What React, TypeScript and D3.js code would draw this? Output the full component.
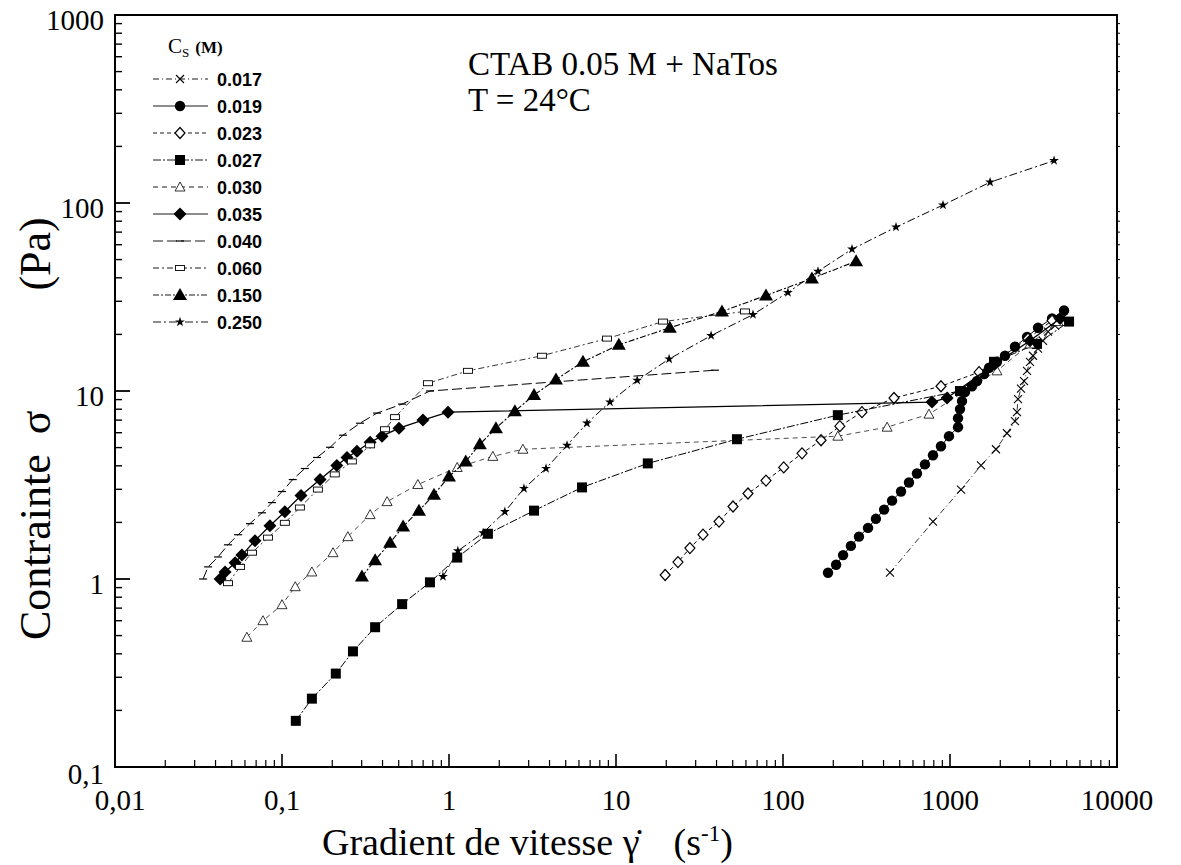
import React from 'react';
import * as d3 from 'd3';

// --- DATA (shear rate s-1, stress Pa) ---
const concentrations = ['0.017', '0.019', '0.023', '0.027', '0.030', '0.035', '0.040', '0.060', '0.150', '0.250'];

const s017: [number, number][] = [[437, 1.08], [791, 2.02], [1164, 2.99], [1534, 4.02], [1885, 4.9], [2194, 5.96], [2449, 6.91], [2518, 7.72], [2554, 9.06], [2661, 10.3], [2775, 11.3], [2893, 12.8], [3013, 14.3], [3141, 15.4], [3366, 16.8], [3606, 18.5], [3864, 20.7], [4255, 22.3], [4688, 24.3]];
const s019: [number, number][] = [[186, 1.08], [208, 1.19], [229, 1.34], [255, 1.5], [285, 1.68], [323, 1.87], [360, 2.09], [403, 2.34], [450, 2.61], [509, 2.92], [568, 3.26], [634, 3.64], [708, 4.07], [791, 4.55], [883, 5.08], [986, 5.75], [1117, 6.42], [1117, 7.17], [1148, 8.01], [1180, 8.84], [1230, 9.88], [1355, 10.6], [1452, 11.3], [1600, 12.3], [1714, 13.3], [1911, 14.3], [2134, 15.4], [2449, 17.2], [2893, 19.4], [3366, 21.7], [4083, 24.3], [4819, 26.8]];
const s023: [number, number][] = [[19.7, 1.05], [23.5, 1.23], [27.7, 1.46], [33.2, 1.72], [41.4, 2.02], [50.2, 2.43], [61.7, 2.85], [79.1, 3.34], [101, 3.92], [130, 4.66], [169, 5.47], [219, 6.5], [297, 7.72], [462, 9.18], [883, 10.6], [1493, 12.6], [2931, 19.0], [4083, 23.7]];
const s027: [number, number][] = [[0.121, 0.176], [0.151, 0.231], [0.21, 0.314], [0.266, 0.412], [0.361, 0.554], [0.524, 0.735], [0.769, 0.96], [1.12, 1.3], [1.71, 1.74], [3.23, 2.31], [6.26, 3.07], [15.5, 4.12], [53.0, 5.54], [213, 7.44], [1148, 10.0], [1834, 14.3], [3319, 17.8], [5164, 23.4]];
const s030: [number, number][] = [[0.0616, 0.49], [0.0769, 0.6], [0.1, 0.73], [0.12, 0.91], [0.151, 1.09], [0.202, 1.38], [0.248, 1.68], [0.337, 2.2], [0.426, 2.58], [0.651, 3.18], [1.12, 3.92], [1.83, 4.49], [2.77, 4.9], [213, 5.75], [420, 6.42], [748, 7.53], [1911, 12.8], [3013, 17.8], [4436, 23.4]];
const s035: [number, number][] = [[0.0426, 1.0], [0.0456, 1.09], [0.0524, 1.22], [0.0575, 1.34], [0.0689, 1.6], [0.0847, 1.92], [0.104, 2.28], [0.13, 2.78], [0.169, 3.38], [0.213, 4.02], [0.245, 4.43], [0.281, 4.78], [0.337, 5.34], [0.397, 5.75], [0.502, 6.34], [0.698, 7.0], [0.986, 7.72], [780, 8.73], [960, 9.18], [1858, 13.9], [3013, 18.5], [4560, 24.3]];
const s040: [number, number][] = [[0.0337, 1.0], [0.0361, 1.16], [0.0414, 1.31], [0.0475, 1.52], [0.0546, 1.72], [0.0643, 1.97], [0.0759, 2.25], [0.0871, 2.55], [0.1, 2.92], [0.116, 3.38], [0.137, 3.87], [0.162, 4.43], [0.194, 5.02], [0.232, 5.82], [0.293, 6.74], [0.371, 7.63], [0.524, 8.52], [0.769, 10.0], [39.1, 12.9]];
const s060: [number, number][] = [[0.0475, 0.95], [0.0561, 1.16], [0.0661, 1.38], [0.0824, 1.66], [0.104, 1.99], [0.128, 2.4], [0.164, 2.99], [0.207, 3.6], [0.262, 4.22], [0.337, 5.14], [0.414, 6.26], [0.475, 7.26], [0.748, 11.0], [1.3, 12.8], [3.6, 15.4], [8.83, 19.0], [19.1, 23.4], [59.2, 26.5]];
const s150: [number, number][] = [[0.301, 1.03], [0.361, 1.26], [0.444, 1.56], [0.531, 1.9], [0.661, 2.31], [0.813, 2.81], [1.0, 3.51], [1.26, 4.22], [1.53, 5.21], [1.91, 6.34], [2.48, 7.81], [3.23, 9.52], [4.37, 11.5], [6.34, 14.3], [10.4, 17.6], [21.0, 21.7], [43.1, 26.5], [79.1, 32.2], [149, 39.7], [274, 49.0]];
const s250: [number, number][] = [[0.92, 1.03], [1.13, 1.41], [1.6, 1.76], [2.16, 2.28], [2.81, 3.03], [3.81, 3.87], [5.09, 5.14], [6.7, 6.74], [9.2, 8.73], [13.4, 11.4], [20.8, 14.8], [37.1, 19.7], [66.1, 25.5], [107, 33.4], [162, 43.3], [259, 56.8], [475, 74.4], [908, 97.5], [1738, 129], [4198, 168]];

const xTickValues = [0.01, 0.1, 1, 10, 100, 1000, 10000];
const xTickLabels = ['0,01', '0,1', '1', '10', '100', '1000', '10000'];
const yTickValues = [0.1, 1, 10, 100, 1000];
const yTickLabels = ['0,1', '1', '10', '100', '1000'];

type Marker = 'x' | 'dot' | 'odiamond' | 'square' | 'otri' | 'diamond' | 'dash' | 'rect' | 'tri' | 'star';

// styling per series (same order as concentrations)
const seriesData = [s017, s019, s023, s027, s030, s035, s040, s060, s150, s250];
const markers: Marker[] = ['x', 'dot', 'odiamond', 'square', 'otri', 'diamond', 'dash', 'rect', 'tri', 'star'];
const dashes = ['6 3 1 3', '', '4 3', '8 2 2 2', '5 4', '', '10 4', '6 3 2 3', '6 2 2 2', '8 3 2 3'];
const widths = [0.8, 1, 1, 1, 0.7, 1.3, 1, 0.8, 1.1, 1];

const SERIF = "'Liberation Serif', 'Times New Roman', serif";
const SANS = "'Liberation Sans', Arial, sans-serif";

const x = d3.scaleLog().domain([0.01, 10000]).range([115, 1117]);
const y = d3.scaleLog().domain([0.1, 1000]).range([767, 15]);

function MarkerShape({ kind, cx, cy }: { kind: Marker; cx: number; cy: number }) {
  switch (kind) {
    case 'x':
      return <path d={`M${cx - 4},${cy - 4}L${cx + 4},${cy + 4}M${cx - 4},${cy + 4}L${cx + 4},${cy - 4}`} stroke="#000" strokeWidth={1.1} />;
    case 'dot':
      return <circle cx={cx} cy={cy} r={5.2} fill="#000" />;
    case 'odiamond':
      return <path d={`M${cx},${cy - 5.5}L${cx + 5},${cy}L${cx},${cy + 5.5}L${cx - 5},${cy}Z`} fill="#fff" stroke="#000" strokeWidth={1.2} />;
    case 'square':
      return <rect x={cx - 5} y={cy - 5} width={10} height={10} fill="#000" />;
    case 'otri':
      return <path d={`M${cx},${cy - 5}L${cx + 5},${cy + 4}L${cx - 5},${cy + 4}Z`} fill="#fff" stroke="#000" strokeWidth={0.8} />;
    case 'diamond':
      return <path d={`M${cx},${cy - 6.5}L${cx + 6.5},${cy}L${cx},${cy + 6.5}L${cx - 6.5},${cy}Z`} fill="#000" />;
    case 'dash':
      return <path d={`M${cx - 4},${cy}L${cx + 4},${cy}`} stroke="#000" strokeWidth={1.2} />;
    case 'rect':
      return <rect x={cx - 4.5} y={cy - 2.5} width={9} height={5} fill="#fff" stroke="#000" strokeWidth={0.9} />;
    case 'tri':
      return <path d={`M${cx},${cy - 7}L${cx + 7},${cy + 5}L${cx - 7},${cy + 5}Z`} fill="#000" />;
    case 'star':
      return <path d={d3.symbol(d3.symbolStar, 30)() as string} transform={`translate(${cx},${cy})`} fill="#000" />;
  }
}

export default function App() {
  const line = d3.line<[number, number]>().x(d => x(d[0])).y(d => y(d[1]));
  const xMinor = x.ticks().filter(t => !xTickValues.includes(t));
  const yMinor = y.ticks().filter(t => !yTickValues.some(v => Math.abs(v - t) < 1e-9));
  const x0 = x.range()[0], x1 = x.range()[1];
  const y0 = y.range()[0], y1 = y.range()[1];

  return (
    <svg width={1181} height={865} style={{ position: 'absolute', left: 0, top: 0, background: '#fff' }}>
      {/* frame */}
      <rect x={x0} y={y1} width={x1 - x0} height={y0 - y1} fill="none" stroke="#000" strokeWidth={2} />

      {/* bottom ticks */}
      {xTickValues.map(t => <line key={'xM' + t} x1={x(t)} x2={x(t)} y1={y0} y2={y0 - 13} stroke="#000" strokeWidth={1.6} />)}
      {xMinor.map(t => <line key={'xm' + t} x1={x(t)} x2={x(t)} y1={y0} y2={y0 - 7} stroke="#000" strokeWidth={1.2} />)}
      {/* left ticks */}
      {yTickValues.map(t => <line key={'yM' + t} x1={x0} x2={x0 + 15} y1={y(t)} y2={y(t)} stroke="#000" strokeWidth={1.8} />)}
      {yMinor.map(t => <line key={'ym' + t} x1={x0} x2={x0 + 7} y1={y(t)} y2={y(t)} stroke="#000" strokeWidth={1.4} />)}
      {/* right ticks */}
      {yMinor.map(t => <line key={'yr' + t} x1={x1} x2={x1 + 3} y1={y(t)} y2={y(t)} stroke="#000" strokeWidth={1} />)}

      {/* tick labels */}
      {xTickValues.map((t, i) => (
        <text key={'xl' + t} x={i === 0 ? x(t) + 5 : x(t)} y={810} textAnchor="middle" fontFamily={SERIF} fontSize={29}>{xTickLabels[i]}</text>
      ))}
      {yTickValues.map((t, i) => (
        <text key={'yl' + t} x={104} y={i === 0 ? y(t) + 17 : y(t) + 15} textAnchor="end" fontFamily={SERIF} fontSize={29}>{yTickLabels[i]}</text>
      ))}

      {/* axis titles */}
      <text x={322} y={855} fontFamily={SERIF} fontSize={38}>
        Gradient de vitesse γ̇
        <tspan dx={34}>(s</tspan>
        <tspan dy={-14} fontSize={23}>-1</tspan>
        <tspan dy={14}>)</tspan>
      </text>
      <text transform="translate(50,640) rotate(-90)" fontFamily={SERIF} fontSize={44}>
        Contrainte
        <tspan dx={20}>σ</tspan>
        <tspan dx={120}>(Pa)</tspan>
      </text>

      {/* title */}
      <text x={468} y={75} fontFamily={SERIF} fontSize={33}>CTAB 0.05 M + NaTos</text>
      <text x={468} y={111} fontFamily={SERIF} fontSize={33}>T = 24°C</text>

      {/* series */}
      {seriesData.map((s, i) => (
        <g key={'s' + i}>
          <path d={line(s) as string} fill="none" stroke="#000" strokeWidth={widths[i]} strokeDasharray={dashes[i] || undefined} />
          {s.map((d, j) => <MarkerShape key={j} kind={markers[i]} cx={x(d[0])} cy={y(d[1])} />)}
        </g>
      ))}

      {/* legend */}
      <text x={168} y={53} fontFamily={SERIF} fontSize={21}>
        C<tspan dy={4} fontSize={13}>S</tspan>
        <tspan dy={-4} dx={6} fontSize={17} fontWeight="bold">(M)</tspan>
      </text>
      {concentrations.map((c, i) => {
        const ly = 79 + i * 27;
        return (
          <g key={'lg' + c}>
            <line x1={153} x2={208} y1={ly} y2={ly} stroke="#000" strokeWidth={0.9} strokeDasharray={dashes[i] || undefined} />
            <MarkerShape kind={markers[i]} cx={180} cy={ly} />
            <text x={217} y={ly + 7} fontFamily={SANS} fontWeight="bold" fontSize={18}>{c}</text>
          </g>
        );
      })}
    </svg>
  );
}
